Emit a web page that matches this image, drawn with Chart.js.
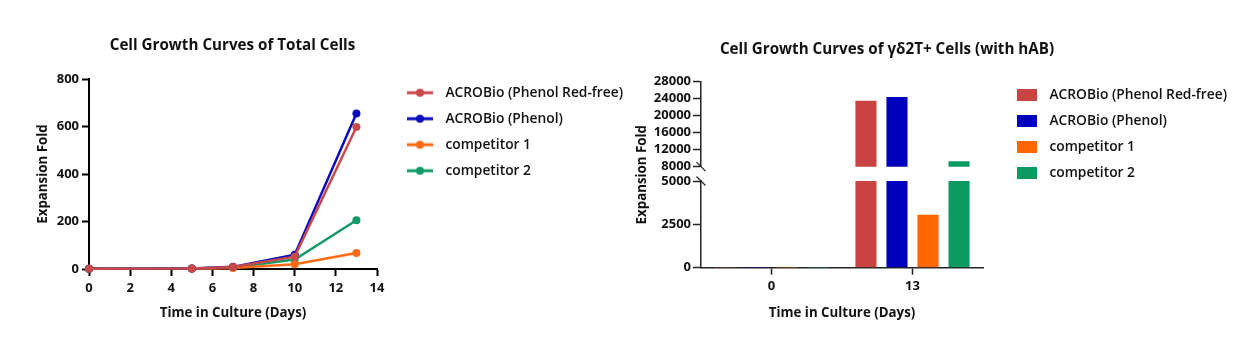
<!DOCTYPE html>
<html><head><meta charset="utf-8">
<script src="https://cdn.jsdelivr.net/npm/chart.js@4.4.0/dist/chart.umd.min.js"></script>
<style>
html,body{margin:0;padding:0;background:#fff;overflow:hidden;}
#wrap{position:relative;width:1255px;height:352px;background:#fff;}
#c1{position:absolute;left:0;top:0;}
#c2{position:absolute;left:630px;top:0;}
</style></head><body>
<div id="wrap"><canvas id="c1" width="630" height="352"></canvas><canvas id="c2" width="625" height="352"></canvas></div>
<script>
// ---------- data ----------
const seriesNames = ['ACROBio (Phenol Red-free)', 'ACROBio (Phenol)', 'competitor 1', 'competitor 2'];
const lineColors = ['#C9484A', '#0A0ABF', '#FF6A14', '#139A66'];
const barColors = ['#C94343', '#0000BD', '#FF6600', '#0C9A63'];

const days = [0, 5, 7, 10, 13];
const totalRedFree = [1, 2, 8, 52, 598];
const totalPhenol = [1, 2, 9, 60, 655];
const totalComp1 = [1, 1.5, 4, 20, 67];
const totalComp2 = [1, 2, 6, 40, 205];
const xTicksLeft = [0, 2, 4, 6, 8, 10, 12, 14];
const yTicksLeft = [0, 200, 400, 600, 800];

const barDays = ['0', '13'];
const gdRedFree = [1, 23500];
const gdPhenol = [1, 24400];
const gdComp1 = [1, 3050];
const gdComp2 = [1, 9300];
const yTicksLow = [0, 2500, 5000];
const yTicksHigh = [8000, 12000, 16000, 20000, 24000, 28000];

// ---------- styling helpers ----------
Chart.defaults.font.family = '"Open Sans", Lato, sans-serif';
Chart.defaults.color = '#111';
const tickFont = { size: 13, weight: 'bold' };
const axisTitleFont = { size: 13.3, weight: 'bold' };
const legendFont = { size: 13.8, weight: '600' };
const mainTitleFont = { size: 15.2, weight: 'bold' };

function lineMarker(color) {
  const c = document.createElement('canvas'); c.width = 26; c.height = 10;
  const g = c.getContext('2d');
  g.strokeStyle = color; g.lineWidth = 3;
  g.beginPath(); g.moveTo(0, 5); g.lineTo(26, 5); g.stroke();
  g.fillStyle = color; g.beginPath(); g.arc(13, 5, 4, 0, Math.PI * 2); g.fill();
  return c;
}
function boxMarker(color) {
  const c = document.createElement('canvas'); c.width = 20; c.height = 12;
  const g = c.getContext('2d'); g.fillStyle = color; g.fillRect(0, 0, 20, 12);
  return c;
}

const placePlugin = {
  id: 'place',
  afterLayout(chart, args, o) {
    const L = chart.legend;
    if (L && o.legendX !== undefined) {
      const pad = o.legendPad;
      const dx = o.legendX - (L.left + pad);
      const dy = o.legendY - (L.top + pad + o.legendFs / 2);
      L.left += dx; L.top += dy;
      L.right = chart.width; L.bottom = chart.height;
      L.width = L.right - L.left; L.height = L.bottom - L.top;
    }
    const T = chart.titleBlock;
    if (T && o.titleX !== undefined) {
      T.left = o.titleX - 260; T.right = o.titleX + 260; T.width = 520;
    }
  }
};

const breakPlugin = {
  id: 'axisBreak',
  afterDraw(chart) {
    const hi = chart.scales.yHigh, lo = chart.scales.yLow;
    if (!hi || !lo) return;
    const ctx = chart.ctx, x = chart.chartArea.left;
    ctx.save();
    ctx.strokeStyle = '#222'; ctx.lineWidth = 1.2;
    [hi.bottom, lo.top].forEach(y => {
      ctx.beginPath(); ctx.moveTo(x - 4.5, y - 4.5); ctx.lineTo(x + 4.5, y + 4.5); ctx.stroke();
    });
    ctx.restore();
  }
};

const setTicks = arr => s => { s.ticks = arr.map(v => ({ value: v })); };
const plainTicks = (pad) => ({ font: tickFont, color: '#111', padding: pad, autoSkip: false, maxRotation: 0, callback: v => String(v) });

// ---------- left: line chart ----------
const lineSeries = [totalRedFree, totalPhenol, totalComp1, totalComp2];
const lineMarkers = lineColors.map(lineMarker);
new Chart(document.getElementById('c1'), {
  type: 'line',
  data: {
    datasets: lineSeries.map((vals, i) => ({
      label: seriesNames[i],
      data: days.map((d, j) => ({ x: d, y: vals[j] })),
      borderColor: lineColors[i], backgroundColor: lineColors[i],
      pointBackgroundColor: lineColors[i], pointBorderWidth: 0,
      pointRadius: 4, borderWidth: 2.5, tension: 0, clip: false
    }))
  },
  options: {
    responsive: false, animation: false, events: [],
    layout: { padding: { left: 0, right: 233, top: 0, bottom: 0 } },
    plugins: {
      tooltip: { enabled: false },
      title: {
        display: true, text: 'Cell Growth Curves of Total Cells', fullSize: false,
        font: mainTitleFont, color: '#111',
        padding: { top: 36.9, bottom: 23.86 }
      },
      legend: {
        position: 'right', align: 'start', fullSize: false, maxWidth: 20,
        labels: {
          usePointStyle: true, pointStyleWidth: 37, padding: 12.2, textAlign: 'left',
          font: legendFont, color: '#111',
          generateLabels: ch => ch.data.datasets.map((ds, i) => ({
            text: ds.label, pointStyle: lineMarkers[i], fillStyle: ds.borderColor,
            strokeStyle: ds.borderColor, lineWidth: 0, hidden: false, datasetIndex: i, fontColor: '#111'
          }))
        }
      },
      place: { legendX: 401.5, legendY: 92.7, legendPad: 12.2, legendFs: 13.8, titleX: 232.5 }
    },
    scales: {
      x: {
        type: 'linear', min: 0, max: 14,
        afterBuildTicks: setTicks(xTicksLeft),
        afterFit: s => { s.height = 83; },
        grid: { display: true, drawOnChartArea: false, tickLength: 7, tickColor: '#000', tickWidth: 2 },
        border: { display: true, color: '#000', width: 2 },
        ticks: plainTicks(4.5),
        title: { display: true, text: 'Time in Culture (Days)', font: axisTitleFont, color: '#111', padding: { top: 0, bottom: 30.7 } }
      },
      y: {
        type: 'linear', min: 0, max: 800,
        afterBuildTicks: setTicks(yTicksLeft),
        afterFit: s => { s.width = 89; },
        grid: { display: true, drawOnChartArea: false, tickLength: 7, tickColor: '#000', tickWidth: 2 },
        border: { display: true, color: '#000', width: 2 },
        ticks: plainTicks(3),
        title: { display: true, text: 'Expansion Fold', font: axisTitleFont, color: '#111', padding: { top: 35.3, bottom: 0 } }
      }
    }
  },
  plugins: [placePlugin]
});

// ---------- right: broken-axis bar chart ----------
const barSeries = [gdRedFree, gdPhenol, gdComp1, gdComp2];
const boxMarkers = barColors.map(boxMarker);
const barCommon = { categoryPercentage: 0.88, barPercentage: 0.68, borderWidth: 0, clip: 0 };
new Chart(document.getElementById('c2'), {
  type: 'bar',
  data: {
    labels: barDays,
    datasets: [
      ...barSeries.map((vals, i) => Object.assign({ label: seriesNames[i], data: vals, backgroundColor: barColors[i], yAxisID: 'yLow', stack: 's' + i }, barCommon)),
      ...barSeries.map((vals, i) => Object.assign({ label: seriesNames[i] + ' (upper)', data: vals, backgroundColor: barColors[i], yAxisID: 'yHigh', stack: 's' + i }, barCommon))
    ]
  },
  options: {
    responsive: false, animation: false, events: [],
    layout: { padding: { left: 0, right: 252, top: 0, bottom: 0 } },
    plugins: {
      tooltip: { enabled: false },
      title: {
        display: true, text: 'Cell Growth Curves of γδ2T+ Cells (with hAB)', fullSize: false,
        font: mainTitleFont, color: '#111',
        padding: { top: 40.9, bottom: 22.56 }
      },
      legend: {
        position: 'right', align: 'start', fullSize: false, maxWidth: 20,
        labels: {
          usePointStyle: true, pointStyleWidth: 31, padding: 12.2, textAlign: 'left',
          font: legendFont, color: '#111',
          generateLabels: ch => ch.data.datasets.slice(0, 4).map((ds, i) => ({
            text: ds.label, pointStyle: boxMarkers[i], fillStyle: ds.backgroundColor,
            strokeStyle: ds.backgroundColor, lineWidth: 0, hidden: false, datasetIndex: i, fontColor: '#111'
          }))
        }
      },
      place: { legendX: 381.5, legendY: 95, legendPad: 12.2, legendFs: 13.8, titleX: 257 }
    },
    scales: {
      x: {
        type: 'category', offset: true,
        afterFit: s => { s.height = 84.3; },
        grid: { display: true, drawOnChartArea: false, offset: false, tickLength: 7, tickColor: '#222', tickWidth: 1.5 },
        border: { display: true, color: '#222', width: 1.5 },
        ticks: { font: tickFont, color: '#111', padding: 3.5, autoSkip: false, maxRotation: 0 },
        title: { display: true, text: 'Time in Culture (Days)', font: axisTitleFont, color: '#111', padding: { top: 0, bottom: 30.7 } }
      },
      yLow: {
        type: 'linear', position: 'left', stack: 'v', stackWeight: 86.7, min: 0, max: 5000,
        afterBuildTicks: setTicks(yTicksLow),
        afterFit: s => { s.width = 57; },
        grid: { display: true, drawOnChartArea: false, tickLength: 8, tickColor: '#222', tickWidth: 1.5 },
        border: { display: true, color: '#222', width: 1.5 },
        ticks: plainTicks(2)
      },
      yGap: {
        type: 'linear', position: 'left', stack: 'v', stackWeight: 14.3, min: 0, max: 1,
        afterFit: s => { s.width = 57; },
        grid: { display: false }, border: { display: false }, ticks: { display: false }
      },
      yHigh: {
        type: 'linear', position: 'left', stack: 'v', stackWeight: 85, min: 8000, max: 28000,
        afterBuildTicks: setTicks(yTicksHigh),
        afterFit: s => { s.width = 57; },
        grid: { display: true, drawOnChartArea: false, tickLength: 8, tickColor: '#222', tickWidth: 1.5 },
        border: { display: true, color: '#222', width: 1.5 },
        ticks: plainTicks(2)
      },
      yTitle: {
        type: 'linear', position: 'left', min: 0, max: 1,
        afterFit: s => { s.width = 14; },
        grid: { display: false }, border: { display: false }, ticks: { display: false },
        title: { display: true, text: 'Expansion Fold', font: axisTitleFont, color: '#111', padding: { top: 4.0, bottom: 0 } }
      }
    }
  },
  plugins: [placePlugin, breakPlugin]
});
</script>
</body></html>
